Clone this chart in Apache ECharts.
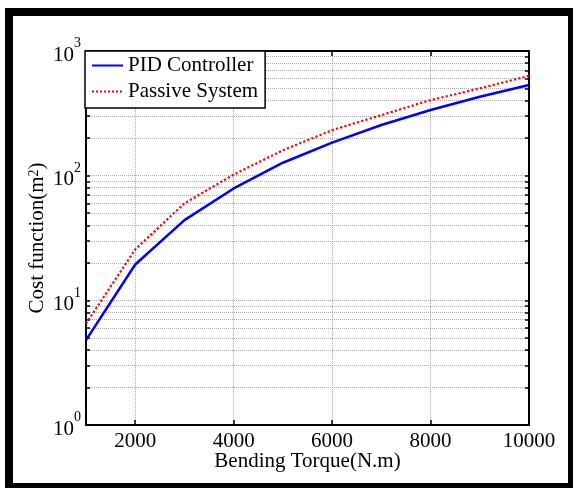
<!DOCTYPE html>
<html>
<head>
<meta charset="utf-8">
<script src="https://cdn.jsdelivr.net/npm/echarts@6/dist/echarts.min.js"></script>
<style>
  html, body { margin: 0; padding: 0; background: #fff; overflow: hidden; }
  #chart { position: absolute; left: 0; top: 0; width: 573px; height: 488px; }
  #frame { position: absolute; left: 5px; top: 8px; width: 555px; height: 467px;
           border: 8px solid #000; pointer-events: none; }
</style>
</head>
<body>
<div id="chart"></div>
<div id="frame"></div>
<script>
// bending torque (N.m)
var torque = [1000, 2000, 3000, 4000, 5000, 6000, 7000, 8000, 9000, 10000];
// cost function (m^2)
var pidCost = [4.8, 19.4, 44, 79, 127, 184, 255, 336, 429, 533];
var passiveCost = [6.5, 25.6, 60, 102, 160, 232, 306, 404, 501, 632];

var xTicks = [2000, 4000, 6000, 8000, 10000];
var yLabels = [1, 10, 100, 1000];
var yExp = { 1: '0', 10: '1', 100: '2', 1000: '3' };
var yGrid = [1, 2, 3, 4, 5, 6, 7, 8, 9,
             10, 20, 30, 40, 50, 60, 70, 80, 90,
             100, 200, 300, 400, 500, 600, 700, 800, 900, 1000];

var font = 'Liberation Serif';

var chart = echarts.init(document.getElementById('chart'));

function pairs(ys) {
	var d = [];
	for (var i = 0; i < torque.length; i++) {
		d.push([ torque[i], ys[i] ]);
	}
	return d;
}

var option = {
	backgroundColor : '#fff',
	animation : false,
	textStyle : { fontFamily : font, color : '#000' },
	grid : { left : 86, top : 51, right : 44, bottom : 63 },
	legend : {
		left : 85,
		top : 51,
		orient : 'vertical',
		backgroundColor : '#fff',
		borderColor : '#000',
		borderWidth : 1.5,
		borderRadius : 0,
		padding : [ 4, 7, 6, 6 ],
		itemGap : 5,
		itemWidth : 31,
		itemHeight : 14,
		itemStyle : { opacity : 0 },
		textStyle : { fontFamily : font, fontSize : 21, lineHeight : 21, color : '#000' },
		data : [ 'PID Controller', 'Passive System' ]
	},
	xAxis : [ {
		type : 'value',
		min : 1000,
		max : 10000,
		name : 'Bending Torque(N.m)',
		nameLocation : 'middle',
		nameGap : 26,
		nameMoveOverlap : false,
		nameTextStyle : { fontFamily : font, fontSize : 21, color : '#000' },
		axisLine : { lineStyle : { color : '#000', width : 2 } },
		axisTick : { inside : true, length : 5, customValues : xTicks,
			lineStyle : { color : '#000', width : 1.5 } },
		axisLabel : { customValues : xTicks, margin : 6, fontFamily : font,
			fontSize : 21, color : '#000',
			formatter : function(v) { return String(v); } },
		splitLine : { show : true, lineStyle : { color : '#aaa', type : 'dotted', width : 1 } }
	}, {
		type : 'value',
		position : 'top',
		min : 1000,
		max : 10000,
		axisLine : { lineStyle : { color : '#000', width : 2 } },
		axisTick : { inside : true, length : 5, customValues : xTicks,
			lineStyle : { color : '#000', width : 1.5 } },
		axisLabel : { show : false },
		splitLine : { show : false }
	} ],
	yAxis : [ {
		type : 'log',
		logBase : 10,
		min : 1,
		max : 1000,
		name : '{n|Cost function(m}{s|2}{n|)}',
		nameLocation : 'middle',
		nameGap : 38,
		nameMoveOverlap : false,
		nameTextStyle : {
			rich : {
				n : { fontFamily : font, fontSize : 21, color : '#000' },
				s : { fontFamily : font, fontSize : 14, color : '#000', verticalAlign : 'top' }
			}
		},
		axisLine : { lineStyle : { color : '#000', width : 2 } },
		axisTick : { inside : true, length : 4, customValues : yGrid,
			lineStyle : { color : '#000', width : 1.5 } },
		axisLabel : {
			customValues : yLabels,
			margin : 5,
			formatter : function(v) {
				return '{b|10}{s|' + yExp[v] + '}';
			},
			rich : {
				b : { fontFamily : font, fontSize : 21, color : '#000', padding : [ 8, 0, 0, 0 ] },
				s : { fontFamily : font, fontSize : 14, color : '#000', verticalAlign : 'top' }
			}
		},
		splitLine : { show : true, lineStyle : { color : '#aaa', type : 'dotted', width : 1 } }
	}, {
		type : 'log',
		logBase : 10,
		min : 1,
		max : 1000,
		position : 'right',
		axisLine : { lineStyle : { color : '#000', width : 2 } },
		axisTick : { inside : true, length : 4, customValues : yGrid,
			lineStyle : { color : '#000', width : 1.5 } },
		axisLabel : { show : false },
		splitLine : { show : false }
	} ],
	series : [ {
		name : 'PID Controller',
		type : 'line',
		symbol : 'none',
		lineStyle : { color : '#0000ff', width : 2.5, type : 'solid' },
		itemStyle : { color : '#0000ff' },
		data : pairs(pidCost)
	}, {
		name : 'Passive System',
		type : 'line',
		symbol : 'none',
		lineStyle : { color : '#ff0000', width : 2.2, type : 'dotted' },
		itemStyle : { color : '#ff0000' },
		data : pairs(passiveCost)
	} ]
};

chart.setOption(option);
</script>
</body>
</html>
